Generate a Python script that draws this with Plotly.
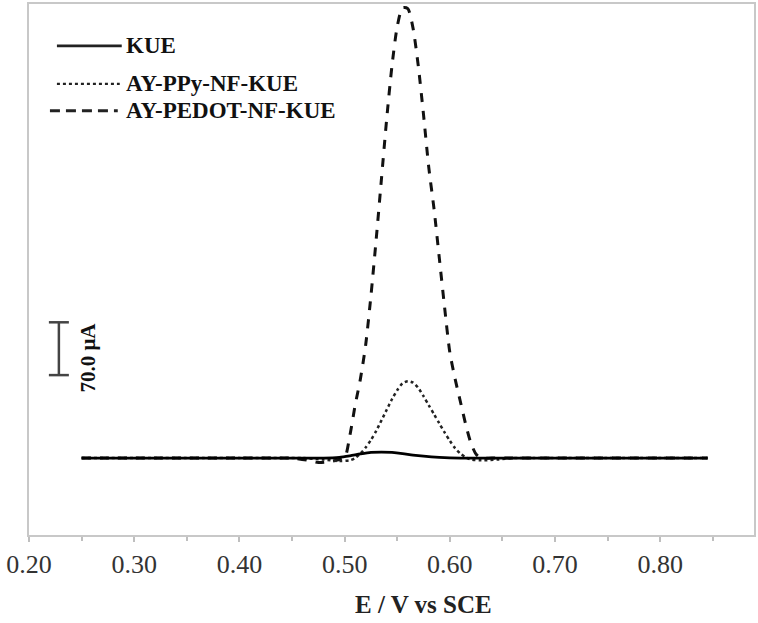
import plotly.graph_objects as go

# ---- data (E in V vs SCE, current in µA relative to baseline) ----
kue_x = [0.25, 0.40, 0.48, 0.495, 0.505, 0.515, 0.525, 0.535, 0.545, 0.555, 0.565, 0.575, 0.59, 0.61,
         0.63, 0.70, 0.845]
kue_y = [0, 0, 0, 1, 3, 5.5, 7.5, 8, 7.5, 6, 4, 2.5, 1, 0,
         0, 0, 0]

ppy_x = [0.25, 0.40, 0.44, 0.46, 0.48, 0.495, 0.505, 0.51, 0.515, 0.52, 0.525, 0.53, 0.535, 0.54,
         0.545, 0.55, 0.555, 0.56, 0.565, 0.57, 0.575, 0.58, 0.585, 0.59, 0.595, 0.60, 0.605, 0.61,
         0.615, 0.62, 0.63, 0.645, 0.66, 0.68, 0.72, 0.845]
ppy_y = [0, 0, 0, 0, -2, -4, -3, 0, 6, 14, 24, 36, 50, 64,
         78, 90, 99, 102, 100, 93, 82, 70, 58, 46, 34, 23, 13, 6,
         1, -2, -3, -2, 0, 0, 0, 0]

pedot_x = [0.25, 0.40, 0.44, 0.45, 0.465, 0.475, 0.485, 0.495, 0.50, 0.505, 0.51, 0.515, 0.52,
           0.525, 0.53, 0.535, 0.54, 0.545, 0.55, 0.555, 0.56, 0.565, 0.57, 0.575, 0.58, 0.585,
           0.59, 0.595, 0.60, 0.605, 0.61, 0.615, 0.62, 0.625, 0.63, 0.64, 0.66, 0.70, 0.845]
pedot_y = [0, 0, 0, 0, -3, -6, -5, -2, 0, 30, 70, 105, 150,
           215, 290, 370, 450, 520, 572, 597, 596, 570, 520, 455, 385, 330,
           265, 200, 140, 105, 75, 45, 20, 5, 0, 0, 0, 0, 0]

legend_labels = ["KUE", "AY-PPy-NF-KUE", "AY-PEDOT-NF-KUE"]
scale_bar = [110, 180]          # 70.0 µA
scale_label = "70.0 μA"
x_title = "E / V vs SCE"
tick_vals = [0.20, 0.30, 0.40, 0.50, 0.60, 0.70, 0.80]
tick_text = ["0.20", "0.30", "0.40", "0.50", "0.60", "0.70", "0.80"]

SERIF = "Liberation Serif"

fig = go.Figure()
fig.add_trace(go.Scatter(x=pedot_x, y=pedot_y, mode="lines", line_shape="spline", line_smoothing=0.7,
                         line=dict(color="#111111", width=3, dash="9px,9px"), showlegend=False))
fig.add_trace(go.Scatter(x=ppy_x, y=ppy_y, mode="lines", line_shape="spline", line_smoothing=0.7,
                         line=dict(color="#222222", width=2.5, dash="dot"), showlegend=False))
fig.add_trace(go.Scatter(x=kue_x, y=kue_y, mode="lines", line_shape="spline", line_smoothing=0.7,
                         line=dict(color="#000000", width=2.8), showlegend=False))

# scale bar (data coordinates)
sb_x = 0.2284
cap = 0.0095
fig.add_shape(type="line", xref="x", yref="y", x0=sb_x, x1=sb_x, y0=scale_bar[0], y1=scale_bar[1],
              line=dict(color="#444444", width=2.5))
for yy in scale_bar:
    fig.add_shape(type="line", xref="x", yref="y", x0=sb_x - cap, x1=sb_x + cap, y0=yy, y1=yy,
                  line=dict(color="#444444", width=2.5))
fig.add_annotation(x=sb_x + 0.0275, y=sum(scale_bar) / 2 - 12, xref="x", yref="y", text="<b>" + scale_label + "</b>",
                   textangle=-90, showarrow=False, font=dict(family=SERIF, size=21, color="#111111"))

# manual legend (pixel -> paper conversion)
L, R, T, B = 29, 756, 3, 535
def px(xp):
    return (xp - L) / (R - L)
def py(yp):
    return (B - yp) / (B - T)

leg_rows = [(45, None, 2.8, 57, 122), (83, "dot", 2.2, 57, 120), (110, "10px,6px", 3, 50, 118)]
for (yp, dash, w, x0, x1), lab in zip(leg_rows, legend_labels):
    fig.add_shape(type="line", xref="paper", yref="paper", x0=px(x0), x1=px(x1), y0=py(yp), y1=py(yp),
                  line=dict(color="#222222", width=w, dash=dash))
    fig.add_annotation(x=px(124), y=py(yp), xref="paper", yref="paper", xanchor="left", yanchor="middle",
                       text="<b>" + lab + "</b>", showarrow=False,
                       font=dict(family=SERIF, size=23, color="#111111"))

fig.add_annotation(x=px(425), y=py(605), xref="paper", yref="paper", xanchor="center", yanchor="middle",
                   text="<b>" + x_title + "</b>", showarrow=False,
                   font=dict(family=SERIF, size=25, color="#222222"))

fig.update_layout(
    width=758, height=623,
    margin=dict(l=L, r=758 - R, t=T, b=623 - B),
    paper_bgcolor="white", plot_bgcolor="white",
    xaxis=dict(range=[0.20, 0.20 + (R - L) / 1055.0], tickvals=tick_vals, ticktext=tick_text,
               ticks="outside", ticklen=5, tickwidth=1.5, tickcolor="#bfbfbf",
               minor=dict(dtick=0.05, tick0=0.25, ticks="outside", ticklen=4, tickcolor="#bfbfbf", tickwidth=1.5),
               showline=True, linecolor="#c8c8c8", linewidth=2, mirror=True, showgrid=False, zeroline=False,
               tickfont=dict(family=SERIF, size=26, color="#333333")),
    yaxis=dict(range=[-102, 602], showticklabels=False, ticks="", showgrid=False, zeroline=False,
               showline=True, linecolor="#c8c8c8", linewidth=2, mirror=True),
)

fig.write_html("out.html", config={"displayModeBar": False},
               post_script="document.body.style.margin='0px';document.body.style.overflow='hidden';")
